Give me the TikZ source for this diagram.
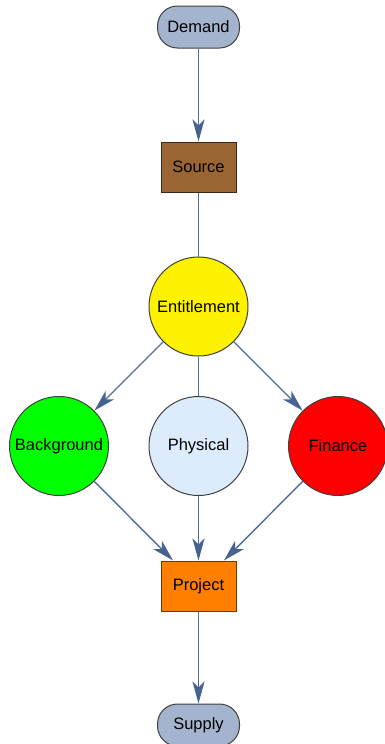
\documentclass[tikz,border=0pt]{standalone}
\usepackage{fontspec}
\setmainfont{Liberation Sans}
\usetikzlibrary{arrows.meta}
\definecolor{edgec}{RGB}{79,108,155}
\definecolor{headc}{RGB}{70,98,145}
\definecolor{pillc}{RGB}{164,180,206}
\definecolor{brownc}{RGB}{153,102,51}
\definecolor{physc}{RGB}{221,236,252}
\definecolor{orangec}{RGB}{255,128,0}
\definecolor{bordc}{RGB}{64,64,64}
\tikzset{
  lbl/.style={font=\fontsize{16.5}{19}\selectfont, text=black},
  pill/.style={lbl, draw=bordc, line width=1pt, fill=pillc, rounded corners=20pt, minimum width=82pt, minimum height=42pt, inner sep=0pt},
  boxn/.style={lbl, line width=1pt, minimum width=75pt, minimum height=50pt, inner sep=0pt},
  circn/.style={lbl, circle, draw=bordc, line width=1pt, minimum size=99pt, inner sep=0pt},
  edge/.style={draw=edgec, line width=1.4pt},
  arr/.style={edge, -{Stealth[length=22pt, width=12pt, inset=6pt, color=headc]}},
}
\begin{document}
\begin{tikzpicture}[x=1pt, y=-1pt]
\useasboundingbox (0,0) rectangle (385,744);
\node[pill] (demand) at (198.5,27) {Demand};
\node[boxn, fill=brownc, draw={rgb,255:red,60;green,40;blue,20}] (source) at (198.5,167) {Source};
\node[circn, fill=yellow] (ent) at (198.5,306.5) {Entitlement};
\node[circn, fill={rgb,255:red,0;green,255;blue,0}] (bg) at (59,446) {Background};
\node[circn, fill=physc] (phys) at (198.5,446) {Physical};
\node[circn, fill=red] (fin) at (338,446) {Finance};
\node[boxn, fill=orangec, draw={rgb,255:red,110;green,55;blue,0}] (proj) at (198.5,586) {Project};
\node[pill] (supply) at (198.5,725) {Supply};
\draw[arr] (demand) -- (source);
\draw[edge] (source) -- (ent);
\draw[arr] (ent) -- (bg);
\draw[edge] (ent) -- (phys);
\draw[arr] (ent) -- (fin);
\draw[arr] (bg) -- (proj);
\draw[arr] (phys) -- (proj);
\draw[arr] (fin) -- (proj);
\draw[arr] (proj) -- (supply);
\end{tikzpicture}
\end{document}
